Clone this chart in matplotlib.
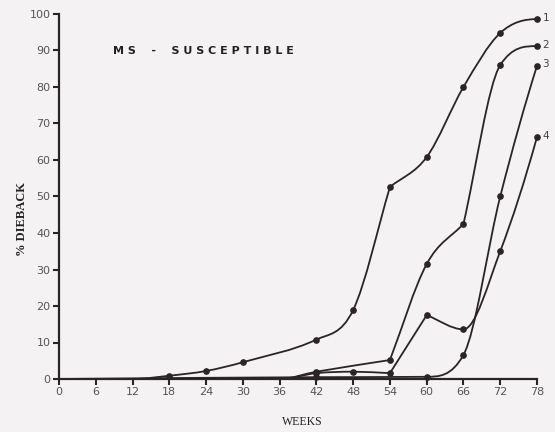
import numpy as np
import matplotlib
matplotlib.use('Agg')
import matplotlib.pyplot as plt
from matplotlib.path import Path
from matplotlib.patches import PathPatch

# weeks on the x axis, % dieback per curve
weeks_ticks = list(range(0, 79, 6))
pct_ticks = list(range(0, 101, 10))

wk1 = [0, 6, 12, 18, 24, 30, 42, 48, 54, 60, 66, 72, 78]
pc1 = [0, 0, 0, 0.9, 2.2, 4.6, 10.8, 18.9, 52.6, 60.8, 80.0, 94.8, 98.6]
mk1 = [3, 4, 5, 6, 7, 8, 9, 10, 11, 12]

wk2 = [0, 36, 42, 54, 60, 66, 72, 78]
pc2 = [0, 0, 2.0, 5.2, 31.5, 42.5, 86.0, 91.2]
mk2 = [2, 3, 4, 5, 6, 7]

wk3 = [0, 42, 60, 66, 72, 78]
pc3 = [0, 0.5, 0.6, 6.6, 50.0, 85.8]
mk3 = [1, 2, 3, 4, 5]

wk4 = [0, 36, 42, 48, 54, 60, 66, 72, 78]
pc4 = [0, 0, 1.6, 2.0, 1.6, 17.5, 13.6, 35.0, 66.3]
mk4 = [2, 3, 4, 5, 6, 7, 8]

# points where the hand-drawn curve has a kink instead of a smooth bend
kinks = {'1': [8], '2': [3, 5], '3': [], '4': [4, 5]}

curves = [(wk1, pc1, mk1, '1'), (wk2, pc2, mk2, '2'),
          (wk3, pc3, mk3, '3'), (wk4, pc4, mk4, '4')]

bg = '#f4f2f2'
ink = '#2b2426'


def slopes(x, y, corners):
    # left/right tangents at each point; limited so curves do not overshoot
    x = np.asarray(x, float)
    y = np.asarray(y, float)
    h = np.diff(x)
    d = np.diff(y) / h
    m = np.zeros_like(y)
    for k in range(1, len(x) - 1):
        if d[k-1] * d[k] > 0:
            c = (y[k+1] - y[k-1]) / (x[k+1] - x[k-1])
            lim = 3 * min(abs(d[k-1]), abs(d[k]))
            m[k] = np.sign(c) * min(abs(c), lim)

    def end(h0, h1, d0, d1):
        s = ((2 * h0 + h1) * d0 - h0 * d1) / (h0 + h1)
        if np.sign(s) != np.sign(d0):
            return 0.0
        if np.sign(d0) != np.sign(d1) and abs(s) > abs(3 * d0):
            return 3 * d0
        return s
    m[0] = end(h[0], h[1], d[0], d[1])
    m[-1] = end(h[-1], h[-2], d[-1], d[-2])
    ml, mr = m.copy(), m.copy()
    for k in corners:
        ml[k] = d[k-1]
        mr[k] = d[k]
    return ml, mr


def smooth_path(x, y, corners):
    # cubic Bezier segments through the data points (Hermite form)
    ml, mr = slopes(x, y, corners)
    verts = [(x[0], y[0])]
    codes = [Path.MOVETO]
    for k in range(len(x) - 1):
        h = x[k+1] - x[k]
        verts += [(x[k] + h / 3, y[k] + mr[k] * h / 3),
                  (x[k+1] - h / 3, y[k+1] - ml[k+1] * h / 3),
                  (x[k+1], y[k+1])]
        codes += [Path.CURVE4] * 3
    return Path(verts, codes)


fig = plt.figure(figsize=(5.55, 4.32), dpi=100, facecolor=bg)
ax = fig.add_axes([59/555, 53/432, 478/555, 365/432])
ax.set_facecolor(bg)

for wk, pc, mk, lab in curves:
    ax.add_patch(PathPatch(smooth_path(wk, pc, kinks[lab]), fill=False,
                           edgecolor=ink, lw=1.3, clip_on=False, zorder=3))
    ax.plot(wk, pc, linestyle='none', color=ink, marker='o', ms=3.8,
            markevery=mk, clip_on=False, zorder=4)
    ax.annotate(lab, (wk[-1], pc[-1]), xytext=(4, 1), textcoords='offset points',
                fontsize=7.5, color='#444444', va='center', ha='left')

ax.set_xlim(0, 78)
ax.set_ylim(0, 100)
ax.set_xticks(weeks_ticks)
ax.set_yticks(pct_ticks)
for s in ['top', 'right']:
    ax.spines[s].set_visible(False)
for s in ['left', 'bottom']:
    ax.spines[s].set_linewidth(1.6)
    ax.spines[s].set_color(ink)
ax.tick_params(axis='both', direction='out', length=4, width=1.5, color=ink,
               labelsize=8, labelcolor='#555555', pad=2)

ax.text(8.8, 89.9, 'M S    -    S U S C E P T I B L E', fontsize=8,
        fontweight='semibold', color='#222222', va='center', ha='left')

fig.text(22/555, 1 - 219/432, '% DIEBACK', rotation=90, ha='center', va='center',
         family='Liberation Serif', fontweight='bold', fontsize=9, color='#222222')
fig.text(302/555, 1 - 422/432, 'WEEKS', ha='center', va='center',
         family='Liberation Serif', fontsize=8.5, color='#222222')

fig.savefig('out.png', dpi=100, facecolor=bg)
